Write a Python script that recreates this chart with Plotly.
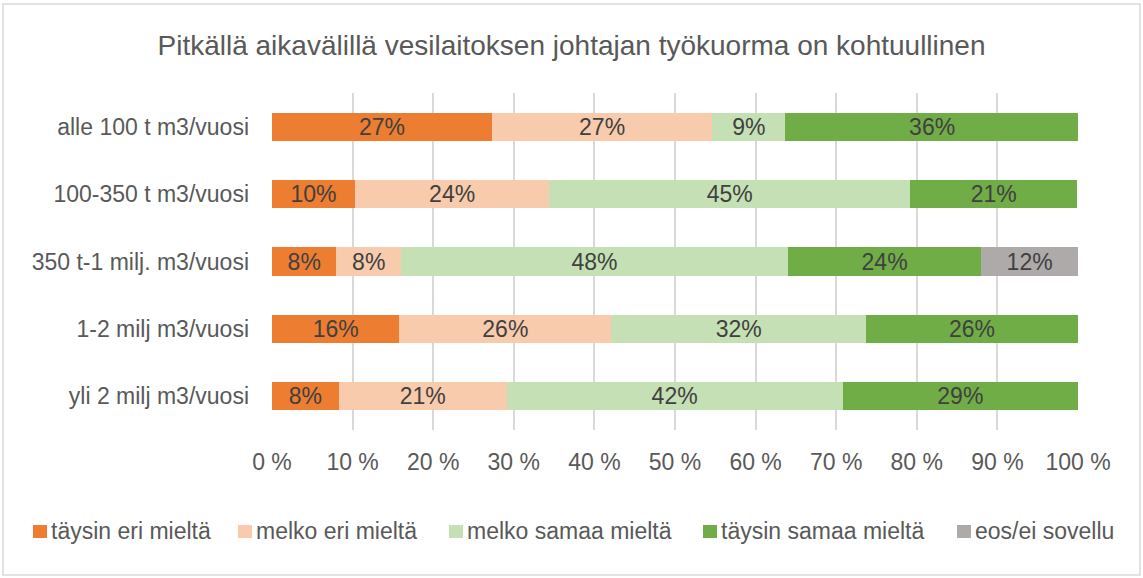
import plotly.graph_objects as go

categories = ["alle 100 t m3/vuosi", "100-350 t m3/vuosi", "350 t-1 milj. m3/vuosi",
              "1-2 milj m3/vuosi", "yli 2 milj m3/vuosi"]
series_names = ["täysin eri mieltä", "melko eri mieltä", "melko samaa mieltä",
                "täysin samaa mieltä", "eos/ei sovellu"]
taysin_eri = [27.3, 10.3, 8.0, 15.8, 8.3]
melko_eri = [27.3, 24.1, 8.0, 26.3, 20.8]
melko_samaa = [9.1, 44.8, 48.0, 31.6, 41.7]
taysin_samaa = [36.4, 20.7, 24.0, 26.3, 29.2]
eos = [0.0, 0.0, 12.0, 0.0, 0.0]
colors = ["#ED7D31", "#F8CBAD", "#C5E0B4", "#70AD47", "#AEAAAA"]
tick_vals = [0, 10, 20, 30, 40, 50, 60, 70, 80, 90, 100]
tick_text = ["0 %", "10 %", "20 %", "30 %", "40 %", "50 %", "60 %", "70 %", "80 %", "90 %", "100 %"]

FONT = "Liberation Sans, Arial, sans-serif"
FS = 23
fig = go.Figure()
for name, vals, col in zip(series_names, [taysin_eri, melko_eri, melko_samaa, taysin_samaa, eos], colors):
    texts = [f"{round(v)}%" if v > 0 else "" for v in vals]
    fig.add_trace(go.Bar(
        y=categories, x=vals, name=name, orientation="h",
        marker=dict(color=col, line=dict(width=0)),
        text=texts, textposition="inside", insidetextanchor="middle",
        textfont=dict(family=FONT, size=FS, color="#404040"),
        constraintext="none", textangle=0, hoverinfo="x+name", showlegend=False,
    ))

W, H = 1143, 578
l, r, t, b = 272, 65, 93, 148
pw, ph = W - l - r, H - t - b

def px_to_paper_x(px):
    return (px - l) / pw

def px_to_paper_y(py):
    return (H - b - py) / ph

shapes = [dict(type="rect", xref="paper", yref="paper",
               x0=px_to_paper_x(3), x1=px_to_paper_x(1140),
               y0=px_to_paper_y(575), y1=px_to_paper_y(4),
               line=dict(color="#D9D9D9", width=1.5), fillcolor="rgba(0,0,0,0)",
               layer="below")]
annotations = []
# custom one-row legend (positions in pixels of the page)
legend_x = [33, 238, 449, 703, 957]
for name, col, lx in zip(series_names, colors, legend_x):
    shapes.append(dict(type="rect", xref="paper", yref="paper",
                       x0=px_to_paper_x(lx), x1=px_to_paper_x(lx + 14),
                       y0=px_to_paper_y(538), y1=px_to_paper_y(525),
                       line=dict(width=0), fillcolor=col))
    annotations.append(dict(text=name, xref="paper", yref="paper",
                            x=px_to_paper_x(lx + 16), y=px_to_paper_y(531),
                            xanchor="left", yanchor="middle", showarrow=False,
                            font=dict(family=FONT, size=FS, color="#595959")))

fig.update_layout(
    width=W, height=H,
    barmode="stack", bargap=0.58,
    margin=dict(l=l, r=r, t=t, b=b),
    paper_bgcolor="white", plot_bgcolor="white",
    font=dict(family=FONT, color="#595959", size=FS),
    title=dict(text="Pitkällä aikavälillä vesilaitoksen johtajan työkuorma on kohtuullinen",
               x=0.5, xref="container", xanchor="center", y=1 - 45 / H, yanchor="middle",
               font=dict(size=28, color="#595959", family=FONT)),
    showlegend=False,
    xaxis=dict(range=[0, 100], tickvals=tick_vals, ticktext=tick_text,
               showgrid=True, gridcolor="#D9D9D9", gridwidth=1.5, zeroline=False,
               showline=False, ticks="", ticklabelstandoff=16,
               tickfont=dict(size=FS, color="#595959")),
    yaxis=dict(categoryorder="array", categoryarray=categories[::-1],
               showgrid=False, showline=False, ticks="", ticklabelstandoff=22,
               tickfont=dict(size=FS, color="#595959")),
    shapes=shapes,
    annotations=annotations,
)

fig.write_html("out.html", config={"displayModeBar": False},
               post_script="document.body.style.margin='0px';")
